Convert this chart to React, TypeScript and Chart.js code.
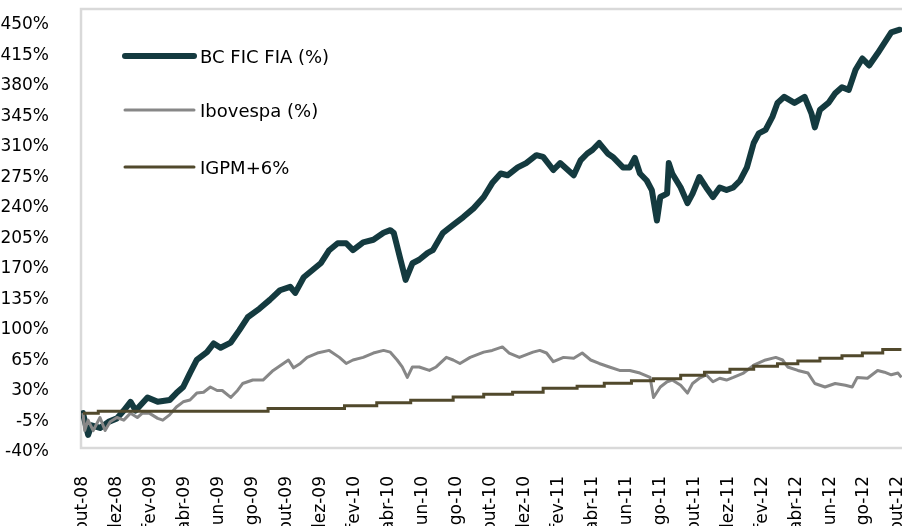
import React, { useEffect, useRef } from 'react';
import { Chart, registerables } from 'chart.js';

Chart.register(...registerables);

// x = months since out-08
const xTickLabels = [
  'out-08', 'dez-08', 'fev-09', 'abr-09', 'jun-09', 'ago-09', 'out-09', 'dez-09',
  'fev-10', 'abr-10', 'jun-10', 'ago-10', 'out-10', 'dez-10', 'fev-11', 'abr-11',
  'jun-11', 'ago-11', 'out-11', 'dez-11', 'fev-12', 'abr-12', 'jun-12', 'ago-12', 'out-12',
];
const yTickValues = [-40, -5, 30, 65, 100, 135, 170, 205, 240, 275, 310, 345, 380, 415, 450];

const seriesNames = ['BC FIC FIA (%)', 'Ibovespa (%)', 'IGPM+6%'];

const bcMonths = [
  0, 0.3, 0.5, 1.0, 1.5, 2.0, 2.4, 2.8, 3.1, 3.8,
  4.4, 5.1, 5.5, 5.9, 6.3, 6.7, 7.3, 7.7, 8.1, 8.7,
  9.2, 9.7, 10.4, 11.0, 11.6, 12.2, 12.5, 13.0, 13.5, 14.0,
  14.5, 15.0, 15.5, 15.9, 16.5, 17.1, 17.7, 18.1, 18.3, 18.7,
  19.0, 19.4, 19.8, 20.3, 20.6, 21.2, 21.8, 22.4, 23.0, 23.6,
  24.1, 24.6, 25.0, 25.6, 26.1, 26.7, 27.1, 27.7, 28.1, 28.9,
  29.3, 29.7, 30.0, 30.4, 30.9, 31.2, 31.8, 32.2, 32.5, 32.8,
  33.2, 33.5, 33.8, 34.0, 34.4, 34.5, 34.7, 35.2, 35.6, 35.9,
  36.3, 36.7, 37.1, 37.5, 37.9, 38.3, 38.7, 39.1, 39.5, 39.8,
  40.2, 40.6, 40.9, 41.3, 41.9, 42.5, 42.9, 43.1, 43.4, 43.9,
  44.3, 44.7, 45.1, 45.5, 45.9, 46.3, 46.8, 47.2, 47.6, 48.1,
];
const bcValues = [
  0, -25, -14, -17, -10, -6, 3, 13, 3, 18,
  13, 15, 23, 30, 46, 61, 70, 80, 75, 81,
  95, 110, 120, 130, 141, 145, 138, 156, 164, 172,
  187, 195, 195, 187, 196, 199, 207, 210, 207, 176,
  153, 172, 176, 184, 187, 207, 216, 225, 235, 248,
  264, 275, 273, 282, 287, 296, 294, 279, 287, 273,
  290, 298, 302, 310, 298, 294, 282, 282, 293, 275,
  267, 256, 221, 248, 252, 287, 275, 259, 241, 252,
  271, 259, 248, 259, 256, 259, 267, 282, 310, 321,
  325, 340, 356, 363, 356, 363, 344, 328, 348, 356,
  367, 374, 371, 394, 407, 399, 413, 425, 437, 440,
];

const ibovMonths = [
  0, 0.1, 0.3, 0.6, 1.0, 1.3, 1.6, 2.0, 2.4, 2.8,
  3.2, 3.5, 3.9, 4.4, 4.7, 5.1, 5.5, 5.9, 6.3, 6.7,
  7.1, 7.5, 7.9, 8.2, 8.7, 9.1, 9.4, 10.0, 10.6, 11.2,
  11.8, 12.1, 12.4, 12.8, 13.2, 13.8, 14.5, 15.1, 15.5, 15.9,
  16.5, 17.1, 17.7, 18.1, 18.5, 18.8, 19.1, 19.4, 19.8, 20.4,
  20.8, 21.4, 21.8, 22.2, 22.8, 23.6, 24.1, 24.7, 25.1, 25.7,
  26.5, 26.9, 27.3, 27.7, 28.3, 28.9, 29.4, 29.9, 30.4, 31.0,
  31.6, 32.2, 32.8, 33.4, 33.6, 34.0, 34.4, 34.7, 35.2, 35.6,
  35.9, 36.3, 36.7, 37.1, 37.5, 37.9, 38.3, 38.9, 39.5, 40.2,
  40.8, 41.2, 41.5, 42.1, 42.7, 43.1, 43.7, 44.3, 44.9, 45.3,
  45.6, 46.2, 46.8, 47.2, 47.6, 48.0, 48.2,
];
const ibovValues = [
  0, -20, -8, -20, -5, -20, -10, -5, -8, 0,
  -5, 0, 0, -6, -8, -2, 7, 13, 15, 23,
  24, 30, 26, 26, 18, 26, 34, 38, 38, 49,
  57, 61, 52, 57, 64, 69, 72, 64, 57, 61,
  64, 69, 72, 70, 61, 53, 41, 53, 53, 49,
  53, 64, 61, 57, 64, 70, 72, 76, 69, 64,
  70, 72, 69, 59, 64, 63, 69, 61, 57, 53,
  49, 49, 46, 41, 18, 30, 36, 38, 32, 23,
  34, 40, 44, 36, 40, 38, 41, 46, 55, 61,
  64, 61, 53, 49, 46, 34, 30, 34, 32, 30,
  41, 40, 49, 47, 44, 46, 41,
];

const igpmMonths = [
  0, 0.9, 10.9, 15.4, 17.3, 19.3, 21.8, 23.6, 25.3, 27.1,
  29.1, 30.7, 32.3, 33.6, 35.2, 36.6, 38.1, 39.5, 40.9, 42.1,
  43.4, 44.7, 45.9, 47.1, 48.2,
];
const igpmValues = [
  0, 2.3, 5.4, 8.6, 11.8, 14.9, 18.4, 21.8, 24.1, 28.7,
  31.0, 34.4, 37.3, 39.6, 43.6, 47.0, 50.5, 53.9, 56.8, 59.7,
  63.1, 66.0, 68.9, 73.0, 73.0,
];

const colors = ['#143a3f', '#878787', '#51492c'];
const widths = [6, 3, 3];

const zip = (xs: number[], ys: number[]) =>
  xs.slice(0, Math.min(xs.length, ys.length)).map((x, i) => ({ x, y: ys[i] }));

const FONT = 'DejaVu Sans';

export default function App() {
  const ref = useRef<HTMLCanvasElement>(null);

  useEffect(() => {
    if (!ref.current) return;

    const plotBorder = {
      id: 'plotBorder',
      beforeDatasetsDraw(chart: any) {
        const { ctx, chartArea: a } = chart;
        ctx.save();
        ctx.strokeStyle = '#d9d9d9';
        ctx.lineWidth = 2.5;
        ctx.strokeRect(a.left, a.top, a.right - a.left + 20, a.bottom - a.top);
        ctx.restore();
      },
    };

    const innerLegend = {
      id: 'innerLegend',
      afterDatasetsDraw(chart: any) {
        const { ctx } = chart;
        const rows = [56, 110, 167];
        ctx.save();
        seriesNames.forEach((name, i) => {
          ctx.strokeStyle = colors[i];
          ctx.lineWidth = widths[i];
          ctx.lineCap = 'round';
          ctx.beginPath();
          ctx.moveTo(125, rows[i]);
          ctx.lineTo(194, rows[i]);
          ctx.stroke();
          ctx.fillStyle = '#000';
          ctx.font = `18px "${FONT}"`;
          ctx.textAlign = 'left';
          ctx.textBaseline = 'middle';
          ctx.fillText(name, 200, rows[i] + 2);
        });
        ctx.restore();
      },
    };

    const chart = new Chart(ref.current, {
      type: 'line',
      data: {
        datasets: [
          {
            label: seriesNames[0],
            data: zip(bcMonths, bcValues),
            borderColor: colors[0],
            borderWidth: widths[0],
            pointRadius: 0,
            borderJoinStyle: 'round',
            borderCapStyle: 'round',
            tension: 0,
            order: 2,
          },
          {
            label: seriesNames[1],
            data: zip(ibovMonths, ibovValues),
            borderColor: colors[1],
            borderWidth: widths[1],
            pointRadius: 0,
            borderJoinStyle: 'round',
            tension: 0,
            order: 1,
          },
          {
            label: seriesNames[2],
            data: zip(igpmMonths, igpmValues),
            borderColor: colors[2],
            borderWidth: widths[2],
            pointRadius: 0,
            stepped: 'before',
            order: 0,
          },
        ],
      },
      options: {
        animation: false,
        responsive: false,
        layout: { padding: { top: 9, left: 0, right: 0, bottom: 0 } },
        plugins: {
          legend: { display: false },
          tooltip: { enabled: false },
        },
        scales: {
          x: {
            type: 'linear',
            min: -0.118,
            max: 48.47,
            grid: { display: false },
            border: { display: false },
            afterBuildTicks: (scale: any) => {
              scale.ticks = xTickLabels.map((_, i) => ({ value: i * 2 }));
            },
            afterFit: (scale: any) => {
              scale.height = 570 - 448;
              scale.paddingLeft = 0;
              scale.paddingRight = 0;
              scale.paddingTop = 0;
              scale.paddingBottom = 0;
            },
            ticks: {
              autoSkip: false,
              minRotation: 90,
              maxRotation: 90,
              padding: 20,
              color: '#000',
              font: { family: FONT, size: 17 },
              callback: (v: any) => xTickLabels[Math.round(Number(v) / 2)] ?? '',
            },
          },
          y: {
            type: 'linear',
            min: -40,
            max: 463.8,
            grid: { display: false },
            border: { display: false },
            afterBuildTicks: (scale: any) => {
              scale.ticks = yTickValues.map((v) => ({ value: v }));
            },
            afterFit: (scale: any) => {
              scale.width = 81;
              scale.paddingLeft = 0;
              scale.paddingRight = 0;
              scale.paddingTop = 0;
              scale.paddingBottom = 0;
            },
            ticks: {
              autoSkip: false,
              padding: 24,
              labelOffset: 4,
              color: '#000',
              font: { family: FONT, size: 17 },
              callback: (v: any) => `${v}%`,
            },
          },
        },
      },
      plugins: [plotBorder, innerLegend],
    } as any);

    return () => chart.destroy();
  }, []);

  return (
    <div
      style={{
        position: 'fixed',
        left: 0,
        top: 0,
        width: 902,
        height: 526,
        overflow: 'hidden',
        background: '#fff',
      }}
    >
      <canvas ref={ref} width={906} height={570} style={{ display: 'block' }} />
    </div>
  );
}
